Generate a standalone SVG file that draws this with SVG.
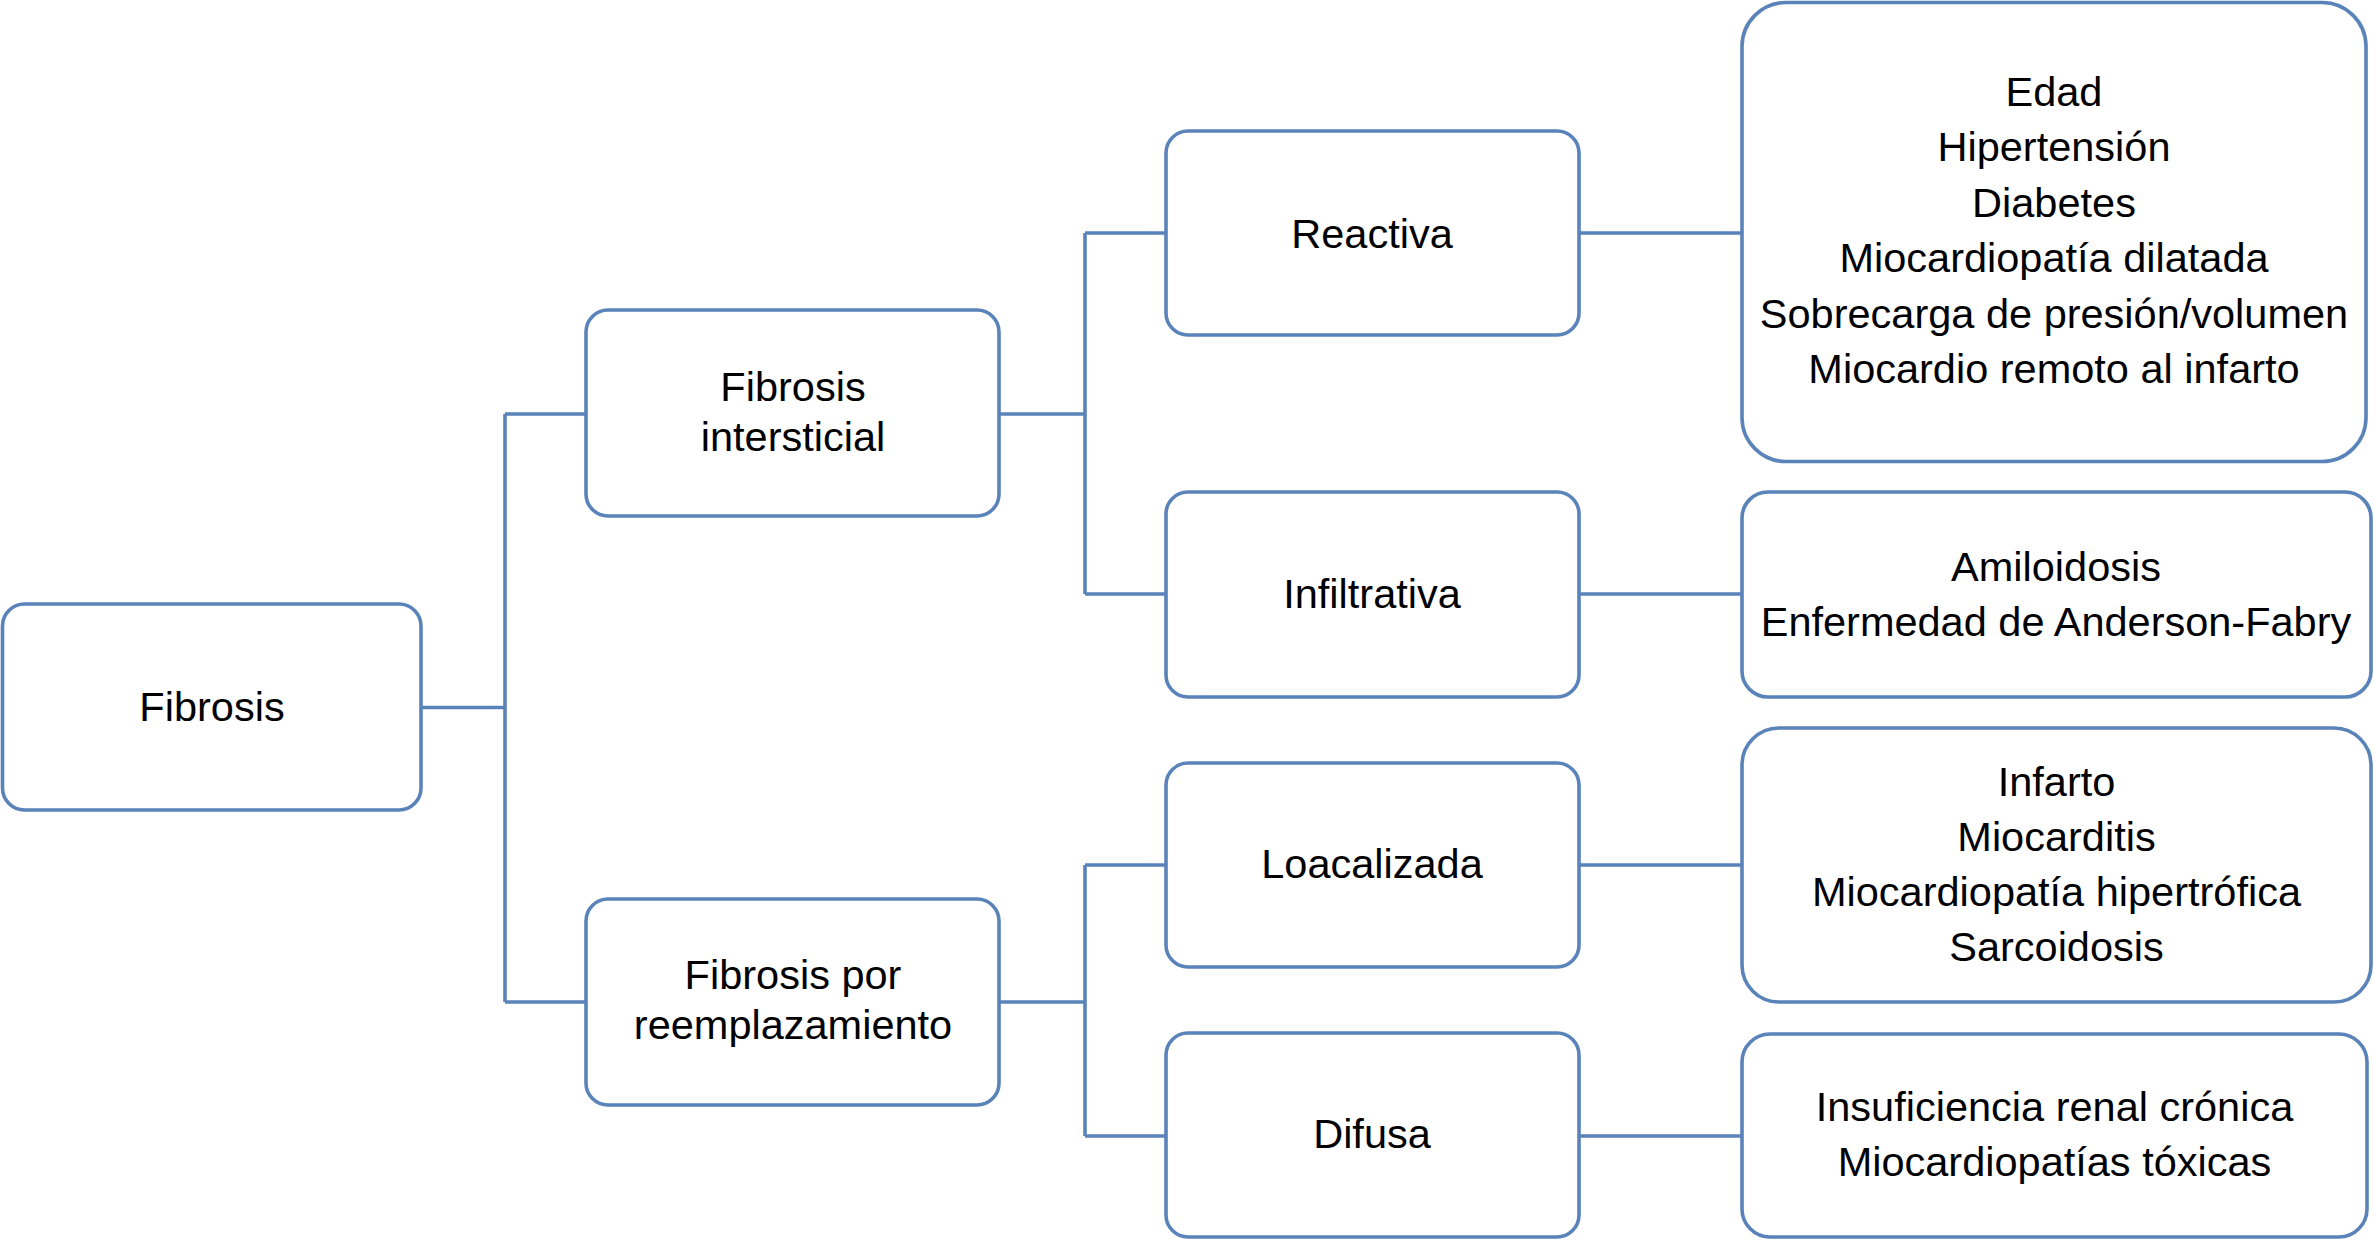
<svg xmlns="http://www.w3.org/2000/svg" width="2374" height="1240" viewBox="0 0 2374 1240">
<style>
.box{fill:#ffffff;stroke:#5a83b9;stroke-width:3.6}
.con{fill:none;stroke:#5a83b9;stroke-width:3.6}
text{font-family:"Liberation Sans",Arial,Helvetica,sans-serif;font-size:41.5px;fill:#000000;text-anchor:middle}
</style>
<rect width="2374" height="1240" fill="#ffffff"/>
<g id="connectors">
<path class="con" d="M421,707.5 H505 M505,414 V1002 M505,414 H586 M505,1002 H586"/>
<path class="con" d="M1000,414 H1085 M1085,233 V594 M1085,233 H1166 M1085,594 H1166"/>
<path class="con" d="M999,1002 H1085 M1085,865 V1136 M1085,865 H1166 M1085,1136 H1166"/>
<path class="con" d="M1579,233 H1742 M1579,594 H1742 M1579,865 H1742 M1579,1136 H1742"/>
</g>
<g id="n-fibrosis">
<rect class="box" x="2.5" y="604" width="418.5" height="206" rx="22"/>
<text x="212" y="721">Fibrosis</text>
</g>
<g id="n-intersticial">
<rect class="box" x="586" y="310" width="413" height="206" rx="22"/>
<text x="793" y="401">Fibrosis</text>
<text x="793" y="451">intersticial</text>
</g>
<g id="n-reemplazamiento">
<rect class="box" x="586" y="899" width="413" height="206" rx="22"/>
<text x="793" y="989">Fibrosis por</text>
<text x="793" y="1039">reemplazamiento</text>
</g>
<g id="n-reactiva">
<rect class="box" x="1166" y="131" width="413" height="204" rx="22"/>
<text x="1372" y="248">Reactiva</text>
</g>
<g id="n-infiltrativa">
<rect class="box" x="1166" y="492" width="413" height="205" rx="22"/>
<text x="1372" y="608">Infiltrativa</text>
</g>
<g id="n-localizada">
<rect class="box" x="1166" y="763" width="413" height="204" rx="22"/>
<text x="1372" y="878">Loacalizada</text>
</g>
<g id="n-difusa">
<rect class="box" x="1166" y="1033" width="413" height="204" rx="22"/>
<text x="1372" y="1148">Difusa</text>
</g>
<g id="n-reactiva-list">
<rect class="box" x="1742" y="2.5" width="624" height="459" rx="44"/>
<text x="2054" y="106">Edad</text>
<text x="2054" y="161.4">Hipertensión</text>
<text x="2054" y="216.8">Diabetes</text>
<text x="2054" y="272.2">Miocardiopatía dilatada</text>
<text x="2054" y="327.6">Sobrecarga de presión/volumen</text>
<text x="2054" y="383">Miocardio remoto al infarto</text>
</g>
<g id="n-infiltrativa-list">
<rect class="box" x="1742" y="492" width="629" height="205" rx="26"/>
<text x="2056" y="581">Amiloidosis</text>
<text x="2056" y="636">Enfermedad de Anderson-Fabry</text>
</g>
<g id="n-localizada-list">
<rect class="box" x="1742" y="728" width="629" height="274" rx="37"/>
<text x="2056.5" y="796">Infarto</text>
<text x="2056.5" y="851">Miocarditis</text>
<text x="2056.5" y="906">Miocardiopatía hipertrófica</text>
<text x="2056.5" y="961">Sarcoidosis</text>
</g>
<g id="n-difusa-list">
<rect class="box" x="1742" y="1034" width="625" height="203" rx="28"/>
<text x="2054.5" y="1121">Insuficiencia renal crónica</text>
<text x="2054.5" y="1176">Miocardiopatías tóxicas</text>
</g>
</svg>
